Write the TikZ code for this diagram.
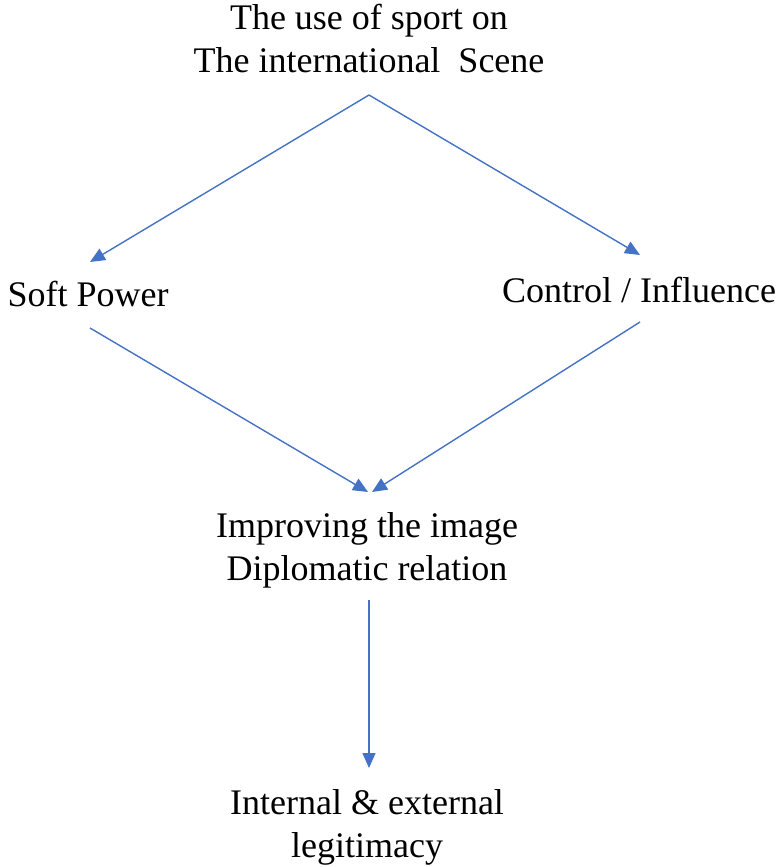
\documentclass[tikz,border=0pt]{standalone}
\usepackage{fontspec}
\setmainfont{Liberation Serif}
\usetikzlibrary{arrows.meta}
\definecolor{arrowblue}{HTML}{4472C4}
\begin{document}
\begin{tikzpicture}[x=1pt,y=-1pt,
  lbl/.style={inner sep=0pt,align=center,font=\fontsize{36}{43}\selectfont,anchor=base},
  conn/.style={draw=arrowblue,line width=1.4pt,-{Triangle[length=15pt,width=13pt]}}]
\useasboundingbox (0,0) rectangle (781,867);
\node[lbl] (top) at (369,72) {The use of sport on\\The international\ \ Scene};
\node[lbl] (soft) at (88,306) {Soft Power};
\node[lbl] (ctrl) at (639,302) {Control / Influence};
\node[lbl] (imp) at (367,580) {Improving\ the image\\Diplomatic\ relation};
\node[lbl] (leg) at (367,857) {Internal \& external\\legitimacy};
\coordinate (topS) at (369,95);
\coordinate (softN) at (90,262);
\coordinate (ctrlN) at (640,255);
\coordinate (softS) at (90,328);
\coordinate (ctrlS) at (640,322);
\coordinate (impNL) at (368,492);
\coordinate (impNR) at (372,492);
\coordinate (impS) at (369,600);
\coordinate (legN) at (369,768);
\draw[conn] (topS) -- (softN);
\draw[conn] (topS) -- (ctrlN);
\draw[conn] (softS) -- (impNL);
\draw[conn] (ctrlS) -- (impNR);
\draw[conn] (impS) -- (legN);
\end{tikzpicture}
\end{document}
